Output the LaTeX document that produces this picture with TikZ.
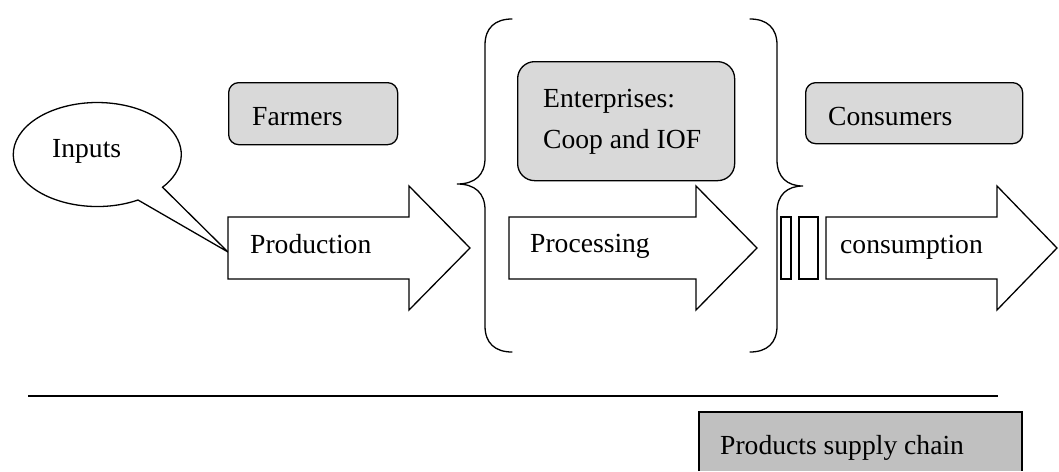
\documentclass[tikz,border=0pt]{standalone}
\usepackage{fontspec}
\setmainfont{Liberation Serif}
\begin{document}
\begin{tikzpicture}[x=1pt,y=1pt,yscale=-1,
  shp/.style={draw=black,line width=1.3pt,line join=miter},
  lbl/.style={anchor=base west,inner sep=0pt,font=\fontsize{27.6}{33}\selectfont},
  actor/.style={draw=black,line width=1.3pt,fill=boxgray,rounded corners=10pt,anchor=north west,inner sep=0pt},
  bigarrow/.style={draw=black,line width=1.3pt,fill=white,line join=miter}]
\definecolor{boxgray}{HTML}{D9D9D9}
\definecolor{chaingray}{HTML}{C0C0C0}
\useasboundingbox (0,0) rectangle (1059,471);
% Inputs callout
\draw[shp,fill=white] (228,252) -- (138,200) arc[start angle=61,end angle=399,x radius=84pt,y radius=52pt] -- cycle;
\node[lbl] (inputs) at (52,157) {Inputs};
% Farmers
\node[actor,minimum width=169pt,minimum height=62pt] (farmersbox) at (228,82) {};
\node[lbl] (farmers) at (252,125) {Farmers};
% Production arrow
\draw[bigarrow] (228,217) -- (409,217) -- (409,186) -- (470,248) -- (409,310) -- (409,279) -- (228,279) -- cycle;
\node[lbl] (production) at (250,253) {Production};
% braces
\draw[shp,line cap=round] (512,19) .. controls (495,19) and (485,28) .. (485,45) -- (485,158)
  .. controls (485,175) and (475,184) .. (457,184) .. controls (475,184) and (485,193) .. (485,210)
  -- (485,326) .. controls (485,343) and (495,352) .. (512,352);
\draw[shp,line cap=round] (750,19) .. controls (767,19) and (777,28) .. (777,45) -- (777,160)
  .. controls (777,177) and (787,186) .. (803,186) .. controls (787,186) and (777,195) .. (777,212)
  -- (777,326) .. controls (777,343) and (767,352) .. (750,352);
% Enterprises
\node[actor,rounded corners=17pt,minimum width=217pt,minimum height=119pt] (entbox) at (517,61) {};
\node[lbl] (ent1) at (543,107) {Enterprises:};
\node[lbl] (ent2) at (543,148) {Coop and IOF};
% Processing arrow
\draw[bigarrow] (509,217) -- (696,217) -- (696,186) -- (757,248) -- (696,310) -- (696,279) -- (509,279) -- cycle;
\node[lbl] (processing) at (530,252) {Processing};
% small bars
\draw[shp,fill=white] (781,217) rectangle (791,279);
\draw[shp,fill=white] (799,217) rectangle (818,279);
% Consumers
\node[actor,minimum width=217pt,minimum height=61pt] (consbox) at (805,82) {};
\node[lbl] (consumers) at (828,125) {Consumers};
% consumption arrow
\draw[bigarrow] (826,217) -- (997,217) -- (997,186) -- (1057,248) -- (997,310) -- (997,279) -- (826,279) -- cycle;
\node[lbl] (consumption) at (840,253) {consumption};
% separator line
\coordinate (la) at (28,396);
\coordinate (lb) at (998,396);
\draw[line width=1.3pt] (la) -- (lb);
% Products supply chain
\fill[chaingray] (699,412) rectangle (1022,471);
\draw[shp] (699,471) -- (699,412) -- (1022,412) -- (1022,471);
\node[lbl] (chain) at (720,454) {Products supply chain};
\end{tikzpicture}
\end{document}
